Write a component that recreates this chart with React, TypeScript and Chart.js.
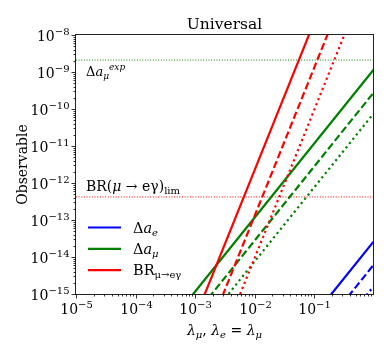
import React, { useEffect, useRef } from "react";
import { Chart, registerables } from "chart.js";

Chart.register(...registerables);

// ---- Data ----
const X_MIN = 1e-5;
const X_MAX = 0.98;
const Y_MIN = 1e-15;
const Y_MAX = 1e-8;

const xPoints = [1e-4, 1e-3, 1e-2, 1e-1, 1];

const brSolid = [2.2e-20, 2.2e-16, 2.2e-12, 2.2e-8, 2.2e-4];
const brDashed = [1.27e-21, 1.27e-17, 1.27e-13, 1.27e-9, 1.27e-5];
const brDotted = [9.2e-23, 9.2e-19, 9.2e-15, 9.2e-11, 9.2e-7];

const amuSolid = [1.15e-17, 1.15e-15, 1.15e-13, 1.15e-11, 1.15e-9];
const amuDashed = [2.75e-18, 2.75e-16, 2.75e-14, 2.75e-12, 2.75e-10];
const amuDotted = [7.5e-19, 7.5e-17, 7.5e-15, 7.5e-13, 7.5e-11];

const aeSolid = [2.6e-22, 2.6e-20, 2.6e-18, 2.6e-16, 2.6e-14];
const aeDashed = [6.1e-23, 6.1e-21, 6.1e-19, 6.1e-17, 6.1e-15];
const aeDotted = [1.6e-23, 1.6e-21, 1.6e-19, 1.6e-17, 1.6e-15];

const limitX = [X_MIN, X_MAX];
const amuExp = [2.1e-9, 2.1e-9];
const brLim = [4.2e-13, 4.2e-13];

const xDecades = [-5, -4, -3, -2, -1];
const yDecades = [-15, -14, -13, -12, -11, -10, -9, -8];

const TITLE = "Universal";
const Y_TITLE = "Observable";

const RED = "#ff0000";
const GREEN = "#008000";
const BLUE = "#0000ff";
const FONT = "DejaVu Serif";

type Part = { t: string; size: number; dy?: number; italic?: boolean };

function richWidth(ctx: CanvasRenderingContext2D, parts: Part[]) {
  let w = 0;
  for (const p of parts) {
    ctx.font = `${p.italic ? "italic " : ""}${p.size}px "${FONT}"`;
    w += ctx.measureText(p.t).width;
  }
  return w;
}

function drawRich(
  ctx: CanvasRenderingContext2D,
  parts: Part[],
  x: number,
  y: number,
  align: "left" | "center" | "right"
) {
  const w = richWidth(ctx, parts);
  let cx = align === "left" ? x : align === "center" ? x - w / 2 : x - w;
  ctx.textAlign = "left";
  ctx.textBaseline = "alphabetic";
  for (const p of parts) {
    ctx.font = `${p.italic ? "italic " : ""}${p.size}px "${FONT}"`;
    ctx.fillText(p.t, cx, y + (p.dy || 0));
    cx += ctx.measureText(p.t).width;
  }
}

function pts(xs: number[], ys: number[]) {
  return xs.map((x, i) => ({ x, y: ys[i] }));
}

const decorPlugin = {
  id: "decor",
  afterDatasetsDraw(chart: any) {
    const ctx: CanvasRenderingContext2D = chart.ctx;
    const { left, right, top, bottom } = chart.chartArea;
    const xs = chart.scales.x;
    const ys = chart.scales.y;
    ctx.save();
    ctx.fillStyle = "#000";
    ctx.strokeStyle = "#222";
    ctx.lineWidth = 1;

    // frame
    const L = Math.round(left) - 0.5;
    const R = Math.round(right) + 0.5;
    const T = Math.round(top) - 0.5;
    const B = Math.round(bottom) + 0.5;
    ctx.strokeRect(L, T, R - L, B - T);

    // y ticks
    ctx.lineWidth = 0.8;
    ctx.strokeStyle = "#000";
    for (const n of yDecades) {
      for (let k = 1; k <= 9; k++) {
        const v = k * Math.pow(10, n);
        if (v > Y_MAX * 1.0001) break;
        const py = Math.round(ys.getPixelForValue(v)) + 0.5;
        const len = k === 1 ? 4 : 2;
        ctx.beginPath();
        ctx.moveTo(L - len, py);
        ctx.lineTo(L, py);
        ctx.stroke();
        if (k === 1) {
          drawRich(
            ctx,
            [
              { t: "10", size: 14 },
              { t: "\u2212" + String(-n), size: 10, dy: -6 },
            ],
            L - 6,
            py + 5,
            "right"
          );
        }
      }
    }
    // x ticks
    for (const n of xDecades) {
      for (let k = 1; k <= 9; k++) {
        const v = k * Math.pow(10, n);
        if (v > X_MAX) break;
        const px = Math.round(xs.getPixelForValue(v)) + 0.5;
        const len = k === 1 ? 4 : 2;
        ctx.beginPath();
        ctx.moveTo(px, B);
        ctx.lineTo(px, B + len);
        ctx.stroke();
        if (k === 1) {
          drawRich(
            ctx,
            [
              { t: "10", size: 14 },
              { t: "\u2212" + String(-n), size: 10, dy: -6 },
            ],
            px,
            B + 19,
            "center"
          );
        }
      }
    }

    // title
    drawRich(ctx, [{ t: TITLE, size: 15.5 }], (left + right) / 2, 29, "center");

    // x label
    drawRich(
      ctx,
      [
        { t: "\u03bb", size: 14, italic: true },
        { t: "\u03bc", size: 10, italic: true, dy: 3 },
        { t: ", ", size: 14 },
        { t: "\u03bb", size: 14, italic: true },
        { t: "e", size: 10, italic: true, dy: 3 },
        { t: " = ", size: 14 },
        { t: "\u03bb", size: 14, italic: true },
        { t: "\u03bc", size: 10, italic: true, dy: 3 },
      ],
      (left + right) / 2,
      335,
      "center"
    );

    // y label (rotated)
    ctx.save();
    ctx.translate(27, (top + bottom) / 2);
    ctx.rotate(-Math.PI / 2);
    drawRich(ctx, [{ t: Y_TITLE, size: 14 }], 0, 0, "center");
    ctx.restore();

    // annotations
    const yExp = ys.getPixelForValue(amuExp[0]);
    drawRich(
      ctx,
      [
        { t: "\u0394", size: 13 },
        { t: "a", size: 13, italic: true },
        { t: "\u03bc", size: 9, italic: true, dy: 3 },
        { t: "exp", size: 9, italic: true, dy: -6 },
      ],
      left + 10,
      yExp + 16,
      "left"
    );
    const yLim = ys.getPixelForValue(brLim[0]);
    drawRich(
      ctx,
      [
        { t: "BR(", size: 14 },
        { t: "\u03bc", size: 14, italic: true },
        { t: " \u2192 e\u03b3)", size: 14 },
        { t: "lim", size: 10, dy: 3 },
      ],
      left + 10,
      yLim - 6,
      "left"
    );

    // legend
    const legend: { color: string; parts: Part[] }[] = [
      {
        color: BLUE,
        parts: [
          { t: "\u0394", size: 14.5 },
          { t: "a", size: 14.5, italic: true },
          { t: "e", size: 10, italic: true, dy: 3 },
        ],
      },
      {
        color: GREEN,
        parts: [
          { t: "\u0394", size: 14.5 },
          { t: "a", size: 14.5, italic: true },
          { t: "\u03bc", size: 10, italic: true, dy: 3 },
        ],
      },
      {
        color: RED,
        parts: [
          { t: "BR", size: 14.5 },
          { t: "\u03bc\u2192e\u03b3", size: 10, dy: 3 },
        ],
      },
    ];
    legend.forEach((item, i) => {
      const y = 227.5 + i * 21.3;
      ctx.strokeStyle = item.color;
      ctx.lineWidth = 2.2;
      ctx.beginPath();
      ctx.moveTo(left + 12, y);
      ctx.lineTo(left + 45, y);
      ctx.stroke();
      ctx.fillStyle = "#000";
      drawRich(ctx, item.parts, left + 57, y + 5, "left");
    });

    ctx.restore();
  },
};

export default function App() {
  const ref = useRef<HTMLCanvasElement | null>(null);
  useEffect(() => {
    document.body.style.margin = "0";
    const canvas = ref.current;
    if (!canvas) return;
    const solid: number[] = [];
    const dashed = [7.4, 3.2];
    const dotted = [2.2, 3.3];
    const ds = (data: number[], color: string, dash: number[], xs = xPoints, w = 2.2) => ({
      data: pts(xs, data),
      borderColor: color,
      backgroundColor: color,
      borderWidth: w,
      borderDash: dash,
      pointRadius: 0,
      fill: false,
      tension: 0,
    });
    const chart = new Chart(canvas, {
      type: "line",
      data: {
        datasets: [
          ds(brSolid, RED, solid),
          ds(brDashed, RED, dashed),
          ds(brDotted, RED, dotted),
          ds(amuSolid, GREEN, solid),
          ds(amuDashed, GREEN, dashed),
          ds(amuDotted, GREEN, dotted),
          ds(aeSolid, BLUE, solid),
          ds(aeDashed, BLUE, dashed),
          ds(aeDotted, BLUE, dotted),
          ds(amuExp, GREEN, [1, 1.65], limitX, 1),
          ds(brLim, RED, [1, 1.65], limitX, 1),
        ],
      },
      options: {
        responsive: false,
        animation: false,
        devicePixelRatio: 1,
        layout: { padding: { left: 76, right: 17, top: 35, bottom: 57 } },
        plugins: {
          legend: { display: false },
          tooltip: { enabled: false },
          title: { display: false },
        },
        scales: {
          x: {
            type: "logarithmic",
            min: X_MIN,
            max: X_MAX,
            ticks: { display: false },
            grid: { display: false, drawTicks: false },
            border: { display: false },
          },
          y: {
            type: "logarithmic",
            min: Y_MIN,
            max: Y_MAX,
            ticks: { display: false },
            grid: { display: false, drawTicks: false },
            border: { display: false },
          },
        },
      },
      plugins: [decorPlugin],
    });
    return () => chart.destroy();
  }, []);
  return (
    <div style={{ position: "fixed", left: 0, top: 0, width: 390, height: 351, background: "#fff" }}>
      <canvas ref={ref} width={390} height={351} style={{ display: "block" }} />
    </div>
  );
}
